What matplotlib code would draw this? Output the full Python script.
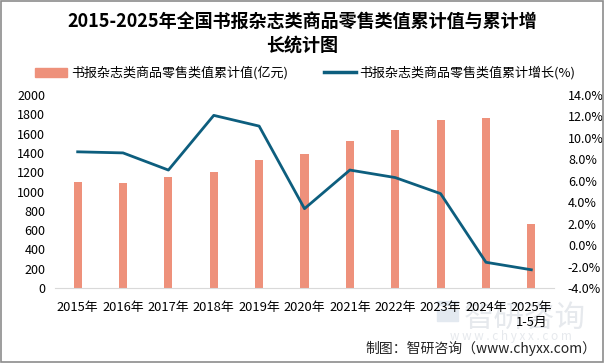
import matplotlib
matplotlib.use("Agg")
import matplotlib.pyplot as plt
from matplotlib.lines import Line2D
from matplotlib.patches import Patch, Rectangle
import numpy as np

plt.rcParams["font.family"] = ["Noto Sans CJK SC", "DejaVu Sans"]

_BAR = "#EE917B"
_LINE = "#0D5E7E"

years = ["2015年", "2016年", "2017年", "2018年", "2019年", "2020年",
         "2021年", "2022年", "2023年", "2024年", "2025年\n1-5月"]
retail_value = [1100, 1090, 1152, 1207, 1328, 1390, 1525, 1638, 1742, 1762, 663]
growth_pct = [8.7, 8.6, 7.0, 12.1, 11.1, 3.4, 7.0, 6.3, 4.8, -1.6, -2.3]
left_ticks = list(range(0, 2001, 200))
right_ticks = list(range(-4, 15, 2))

fig = plt.figure(figsize=(6.05, 3.63), dpi=100)
fig.patch.set_facecolor("white")
fig.patches.append(Rectangle((0.002, 0.003), 0.995, 0.994, transform=fig.transFigure,
                             fill=False, edgecolor="#8c8c8c", lw=1.2))

# watermark (behind the axes)
fig.patches.append(Rectangle((0.722, 0.115), 0.035, 0.035, transform=fig.transFigure,
                             color="#e3e9f0", zorder=-2))
fig.patches.append(Rectangle((0.722, 0.16), 0.035, 0.012, transform=fig.transFigure,
                             color="#e3e9f0", zorder=-2))
fig.text(0.868, 0.124, "智研咨询", ha="center", va="center", fontsize=22,
         color="#e6e9ed", zorder=-2)
fig.text(0.845, 0.072, "w w w . c h y x x . c o m", ha="center", va="center",
         fontsize=8.5, color="#e6e9ed", zorder=-2)

ax = fig.add_axes([0.0909, 0.2066, 0.8248, 0.5317])
ax.patch.set_alpha(0)
x = np.arange(len(years))
ax.bar(x, retail_value, width=0.18, color=_BAR, zorder=2)
ax.set_xlim(-0.5, len(years) - 0.5)
ax.set_ylim(0, 2000)
ax.set_yticks(left_ticks)
ax.set_xticks(x)
ax.set_xticklabels(years, fontsize=9.3)
for s in ("top", "right", "left"):
    ax.spines[s].set_visible(False)
ax.spines["bottom"].set_color("#d9d9d9")
ax.tick_params(axis="y", length=0, labelsize=9, colors="#000000", pad=7)
ax.tick_params(axis="x", length=0, pad=9, colors="#000000")

ax2 = ax.twinx()
ax2.plot(x, growth_pct, color=_LINE, lw=2.0, zorder=3)
ax2.set_ylim(-4, 14)
ax2.set_yticks(right_ticks)
ax2.set_yticklabels([f"{t:.1f}%" for t in right_ticks])
for s in ax2.spines.values():
    s.set_visible(False)
ax2.tick_params(axis="y", length=0, labelsize=9, pad=10)

fig.text(0.5, 0.942, "2015-2025年全国书报杂志类商品零售类值累计值与累计增",
         ha="center", va="center", fontsize=13, fontweight="bold")
fig.text(0.5, 0.875, "长统计图", ha="center", va="center",
         fontsize=13, fontweight="bold")

handles = [Patch(color=_BAR), Line2D([0], [0], color=_LINE, lw=2.5)]
labels = ["书报杂志类商品零售类值累计值(亿元)", "书报杂志类商品零售类值累计增长(%)"]
fig.legend(handles, labels, loc="center", bbox_to_anchor=(0.505, 0.799), ncol=2,
           frameon=False, fontsize=9.4, handlelength=2.4, columnspacing=2.8,
           handletextpad=0.3)

fig.text(0.985, 0.04, "制图：智研咨询（www.chyxx.com）", ha="right", va="center",
         fontsize=10, color="#222222")

fig.savefig("out.png", dpi=100, facecolor="white")
